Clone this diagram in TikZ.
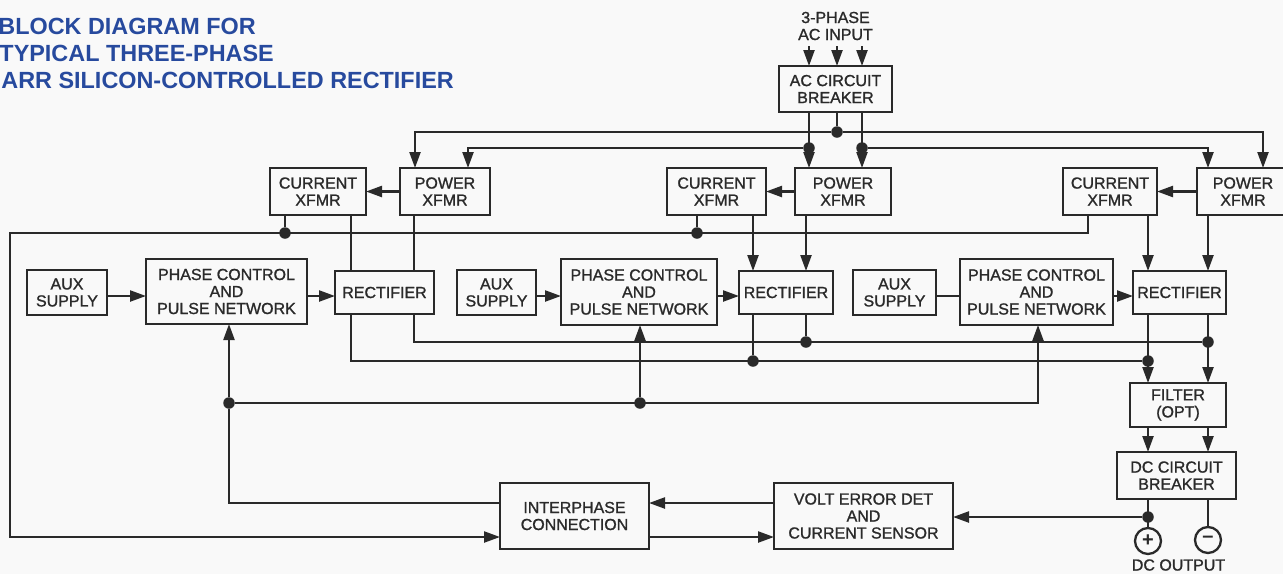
\documentclass[tikz,border=0pt]{standalone}
\usepackage{fontspec}
\setmainfont{Liberation Sans}
\newfontfamily\lblfont[FakeBold=1.2]{Liberation Sans}
\newfontfamily\ttlfont{Liberation Sans Bold}
\usetikzlibrary{arrows.meta,calc}
\definecolor{ink}{HTML}{2A2A2A}
\definecolor{titleblue}{HTML}{274A9E}
\definecolor{paper}{HTML}{F9F9F9}
\tikzset{
  lbl/.style={font=\lblfont\fontsize{16}{17}\selectfont,text=ink,align=center},
  box/.style={draw=ink,line width=2.3pt,inner sep=0pt,outer sep=0pt,lbl},
  conn/.style={draw=ink,line width=2.3pt},
  arr/.style={conn,-{Triangle[length=16pt,width=11pt]}},
  junction/.style={circle,fill=ink,minimum size=11.5pt,inner sep=0pt,outer sep=0pt},
  term/.style={circle,draw=ink,line width=2.3pt,minimum size=26pt,inner sep=0pt,outer sep=0pt,font=\ttlfont\fontsize{20}{20}\selectfont,text=ink},
  ttl/.style={anchor=east,inner sep=0pt,text=titleblue,font=\ttlfont\fontsize{23.4}{24}\selectfont}
}
\begin{document}
\begin{tikzpicture}[x=1pt,y=-1pt]
\path[use as bounding box,fill=paper] (0,0) rectangle (1283,574);
% title
\node[ttl] (t1) at (256,26) {BLOCK DIAGRAM FOR};
\node[ttl] (t2) at (274,53) {TYPICAL THREE-PHASE};
\node[ttl] (t3) at (454,80) {ARR SILICON-CONTROLLED RECTIFIER};
% labels
\node[lbl] (acin) at (835.5,26) {3-PHASE\\AC INPUT};
\node[lbl] (dcout) at (1178.5,565) {DC OUTPUT};
% boxes
\node[box,minimum width=113pt,minimum height=46pt] (ac) at (835.5,89) {AC CIRCUIT\\BREAKER};
\node[box,minimum width=96pt,minimum height=47pt] (cx1) at (318,191.5) {CURRENT\\XFMR};
\node[box,minimum width=90pt,minimum height=47pt] (pw1) at (445,191.5) {POWER\\XFMR};
\node[box,minimum width=99pt,minimum height=47pt] (cx2) at (716.5,191.5) {CURRENT\\XFMR};
\node[box,minimum width=96pt,minimum height=47pt] (pw2) at (843,191.5) {POWER\\XFMR};
\node[box,minimum width=94pt,minimum height=47pt] (cx3) at (1110,191.5) {CURRENT\\XFMR};
\node[box,minimum width=92pt,minimum height=47pt] (pw3) at (1243,191.5) {POWER\\XFMR};
\node[box,minimum width=80pt,minimum height=45pt] (aux1) at (67,292.5) {AUX\\SUPPLY};
\node[box,minimum width=161pt,minimum height=65pt] (ph1) at (226.5,291.5) {PHASE CONTROL\\AND\\PULSE NETWORK};
\node[box,minimum width=99pt,minimum height=43pt] (rc1) at (384.5,292.5) {RECTIFIER};
\node[box,minimum width=79pt,minimum height=45pt] (aux2) at (496.5,292.5) {AUX\\SUPPLY};
\node[box,minimum width=156pt,minimum height=66pt] (ph2) at (639,292) {PHASE CONTROL\\AND\\PULSE NETWORK};
\node[box,minimum width=94pt,minimum height=43pt] (rc2) at (786,292.5) {RECTIFIER};
\node[box,minimum width=83pt,minimum height=45pt] (aux3) at (894.5,292.5) {AUX\\SUPPLY};
\node[box,minimum width=153pt,minimum height=66pt] (ph3) at (1036.5,292) {PHASE CONTROL\\AND\\PULSE NETWORK};
\node[box,minimum width=93pt,minimum height=43pt] (rc3) at (1179.5,292.5) {RECTIFIER};
\node[box,minimum width=96pt,minimum height=44pt] (fl) at (1178,405) {FILTER\\(OPT)};
\node[box,minimum width=119pt,minimum height=47pt] (dc) at (1176.5,475.5) {DC CIRCUIT\\BREAKER};
\node[box,minimum width=179pt,minimum height=66pt] (vt) at (863.5,516) {VOLT ERROR DET\\AND\\CURRENT SENSOR};
\node[box,minimum width=149pt,minimum height=66pt] (ip) at (574.5,516) {INTERPHASE\\CONNECTION};
\node[term] (plus) at (1148,541) {+};
\node[term] (minus) at (1208,540) {\raisebox{1pt}{\textendash}};
% lanes and free ends
\coordinate (inA) at (809,46);
\coordinate (inB) at (837,46);
\coordinate (inC) at (862,46);
\coordinate (row) at (0,296);
\coordinate (tl) at (10,233);
\coordinate (bl) at (10,537);
\coordinate (upper) at (0,503);
\coordinate (lower) at (0,537);
\coordinate (L351) at (351,0);
\coordinate (L414) at (414,0);
\coordinate (L415) at (415,0);
\coordinate (L468) at (468,0);
\coordinate (L753) at (753,0);
\coordinate (L806) at (806,0);
\coordinate (L1038) at (1038,0);
\coordinate (L1088) at (1088,0);
\coordinate (L1148) at (1148,0);
\coordinate (L1208) at (1208,0);
\coordinate (L1263) at (1263,0);
% junctions
\node[junction] (j1) at (837,132) {};
\node[junction] (j2) at (809,148) {};
\node[junction] (j3) at (862,148) {};
\node[junction] (j4) at (285,233) {};
\node[junction] (j5) at (697,233) {};
\node[junction] (j6) at (806,342) {};
\node[junction] (j7) at (753,361) {};
\node[junction] (j8) at (1208,342) {};
\node[junction] (j9) at (1148,361) {};
\node[junction] (j10) at (229,403) {};
\node[junction] (j11) at (640,403) {};
\node[junction] (j12) at (1148,517) {};
% AC input
\draw[arr] (inA) -- (inA |- ac.north);
\draw[arr] (inB) -- (inB |- ac.north);
\draw[arr] (inC) -- (inC |- ac.north);
\draw[arr] (inA |- ac.south) -- (inA |- pw2.north);
\draw[arr] (inC |- ac.south) -- (inC |- pw2.north);
\draw[conn] (inB |- ac.south) -- (j1);
% AC buses
\draw[arr] (j1) -| (L415 |- pw1.north);
\draw[arr] (j1) -| (L1263 |- pw3.north);
\draw[arr] (j2) -| (L468 |- pw1.north);
\draw[arr] (j3) -| (L1208 |- pw3.north);
% power to current
\draw[arr] (pw1.west) -- (cx1.east);
\draw[arr] (pw2.west) -- (cx2.east);
\draw[arr] (pw3.west) -- (cx3.east);
% current sense bus
\draw[conn] (cx1.south -| j4) -- (j4);
\draw[conn] (cx2.south -| j5) -- (j5);
\draw[arr] (L1088 |- cx3.south) |- (tl) -- (bl) -- (ip.west |- bl);
% xfmr to rectifier
\draw[conn] (L351 |- cx1.south) -- (L351 |- rc1.north);
\draw[conn] (L414 |- pw1.south) -- (L414 |- rc1.north);
\draw[arr] (L753 |- cx2.south) -- (L753 |- rc2.north);
\draw[arr] (L806 |- pw2.south) -- (L806 |- rc2.north);
\draw[arr] (L1148 |- cx3.south) -- (L1148 |- rc3.north);
\draw[arr] (L1208 |- pw3.south) -- (L1208 |- rc3.north);
% supply to phase control to rectifier
\draw[arr] (aux1.east |- row) -- (ph1.west |- row);
\draw[arr] (ph1.east |- row) -- (rc1.west |- row);
\draw[arr] (aux2.east |- row) -- (ph2.west |- row);
\draw[arr] (ph2.east |- row) -- (rc2.west |- row);
\draw[conn] (aux3.east |- row) -- (ph3.west |- row);
\draw[arr] (ph3.east |- row) -- (rc3.west |- row);
% rectifier output buses
\draw[conn] (L414 |- rc1.south) |- (j8);
\draw[conn] (L351 |- rc1.south) |- (j9);
\draw[conn] (L806 |- rc2.south) -- (j6);
\draw[conn] (L753 |- rc2.south) -- (j7);
\draw[arr] (L1148 |- rc3.south) -- (L1148 |- fl.north);
\draw[arr] (L1208 |- rc3.south) -- (L1208 |- fl.north);
\draw[arr] (L1148 |- fl.south) -- (L1148 |- dc.north);
\draw[arr] (L1208 |- fl.south) -- (L1208 |- dc.north);
% outputs
\draw[conn] (L1148 |- dc.south) -- (plus.north);
\draw[conn] (L1208 |- dc.south) -- (minus.north);
\draw[arr] (j12) -- (vt.east |- j12);
% feedback
\draw[arr] (vt.west |- upper) -- (ip.east |- upper);
\draw[arr] (ip.east |- lower) -- (vt.west |- lower);
\draw[conn] (ip.west |- upper) -| (j10);
\draw[arr] (j10) -- (j10 |- ph1.south);
\draw[arr] (j11) -- (j11 |- ph2.south);
\draw[arr] (j10) -| (L1038 |- ph3.south);
\end{tikzpicture}
\end{document}
